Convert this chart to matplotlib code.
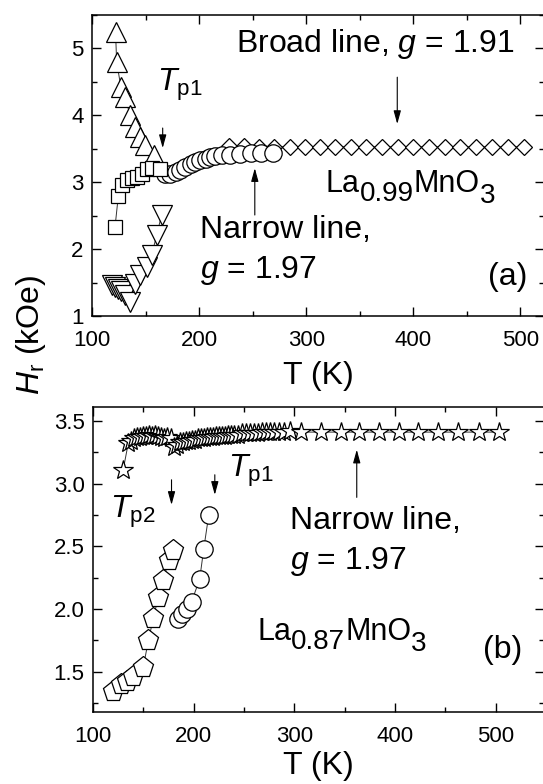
import matplotlib
matplotlib.use("Agg")
import matplotlib.pyplot as plt
from matplotlib.ticker import MultipleLocator

plt.rcParams['font.family'] = ['Liberation Sans', 'DejaVu Sans']
plt.rcParams['mathtext.fontset'] = 'custom'
plt.rcParams['mathtext.rm'] = 'Liberation Sans'
plt.rcParams['mathtext.it'] = 'Liberation Sans:italic'
plt.rcParams['mathtext.bf'] = 'Liberation Sans:bold'

# ---- (a) La0.99MnO3 ----
broad_T = [122, 123, 127, 131, 135.5, 140, 145, 149.5, 158]
broad_H = [5.24, 4.80, 4.42, 4.27, 4.00, 3.82, 3.67, 3.55, 3.40]

broad_hi_T = [228, 242, 256, 270, 285, 299, 313, 327, 342, 356, 371, 385.5,
              400, 414.5, 429.5, 444, 458.5, 473, 488, 503]
broad_hi_H = [3.54, 3.54, 3.53, 3.53, 3.53, 3.53, 3.53, 3.53, 3.53, 3.53, 3.53,
              3.53, 3.53, 3.53, 3.53, 3.53, 3.53, 3.53, 3.53, 3.53]

sq_T = [121.5, 124.6, 128.3, 132.4, 137, 141.8, 146.4, 151, 155.7, 163.6]
sq_H = [2.33, 2.80, 2.96, 3.03, 3.06, 3.08, 3.13, 3.20, 3.22, 3.20]

dn_T = [118.5, 121.5, 124.5, 127.5, 131, 135.5, 140, 145, 151, 155.7, 160.4, 165]
dn_H = [1.46, 1.43, 1.40, 1.37, 1.32, 1.21, 1.48, 1.61, 1.74, 1.91, 2.21, 2.51]

narrow_a_T = [168, 173, 178, 182, 187, 192, 196, 201, 206, 210, 215, 221, 229,
              238, 248, 258, 269]
narrow_a_H = [3.12, 3.12, 3.15, 3.18, 3.23, 3.27, 3.30, 3.33, 3.35, 3.37, 3.39,
              3.40, 3.41, 3.42, 3.43, 3.43, 3.43]

# ---- (b) La0.87MnO3 ----
star_T = [130, 135, 138, 141, 144, 147, 150, 153, 156, 159, 162, 165, 168, 171,
          174, 177, 180, 183, 186, 189, 192, 195, 198, 201, 204, 207, 210, 213,
          216, 219, 222, 225, 228, 231, 234, 237, 240, 244, 248, 252, 256, 260,
          264, 268, 272, 276, 280, 285, 290, 296, 306.5, 326.5, 346, 364, 384,
          404, 423, 443, 463, 483, 503]
star_H = [3.11, 3.32, 3.34, 3.36, 3.37, 3.37, 3.38, 3.38, 3.39, 3.38, 3.39, 3.38,
          3.37, 3.36, 3.37, 3.36, 3.29, 3.31, 3.33, 3.33, 3.34, 3.34, 3.35, 3.35,
          3.36, 3.36, 3.36, 3.37, 3.37, 3.37, 3.38, 3.38, 3.38, 3.38, 3.39, 3.39,
          3.39, 3.39, 3.40, 3.40, 3.40, 3.40, 3.40, 3.41, 3.41, 3.41, 3.41, 3.41,
          3.41, 3.42, 3.41, 3.41, 3.41, 3.41, 3.41, 3.41, 3.41, 3.41, 3.41, 3.41,
          3.41]

pent_T = [120, 128, 134, 140, 150, 155, 160, 165, 170, 175, 179.5]
pent_H = [1.35, 1.40, 1.43, 1.47, 1.54, 1.75, 1.93, 2.10, 2.23, 2.39, 2.47]

circ_b_T = [184, 188, 193, 198, 206, 210, 215]
circ_b_H = [1.92, 1.96, 2.00, 2.06, 2.24, 2.48, 2.75]

fig = plt.figure(figsize=(5.43, 7.84), dpi=100)
W, H = 543.0, 784.0
ax1 = fig.add_axes([92 / W, 1 - 316 / H, (544 - 92) / W, (316 - 15) / H])
ax2 = fig.add_axes([93 / W, 1 - 712 / H, (544 - 93) / W, (712 - 407) / H])

def series(ax, x, y, marker, ms):
    ax.plot(x, y, color='#333333', lw=0.7, marker=marker, ms=ms,
            mfc='white', mec='black', mew=0.9)

series(ax1, broad_hi_T, broad_hi_H, 'D', 8.5)
series(ax1, broad_T, broad_H, '^', 14)
series(ax1, dn_T, dn_H, 'v', 14)
series(ax1, narrow_a_T, narrow_a_H, 'o', 12.5)
series(ax1, sq_T, sq_H, 's', 9.5)

series(ax2, star_T, star_H, '*', 15)
series(ax2, pent_T, pent_H, 'p', 15.5)
series(ax2, circ_b_T, circ_b_H, 'o', 12.5)

ax1.set_xlim(100, 522)
ax1.set_ylim(1, 5.5)
ax1.yaxis.set_major_locator(MultipleLocator(1))
ax1.yaxis.set_minor_locator(MultipleLocator(0.5))

ax2.set_xlim(100, 548)
ax2.set_ylim(1.18, 3.61)
ax2.yaxis.set_major_locator(MultipleLocator(0.5))
ax2.yaxis.set_minor_locator(MultipleLocator(0.25))
ax2.yaxis.set_major_formatter(plt.FormatStrFormatter('%.1f'))

for ax in (ax1, ax2):
    ax.xaxis.set_major_locator(MultipleLocator(100))
    ax.xaxis.set_minor_locator(MultipleLocator(50))
    ax.tick_params(which='both', direction='in', top=True, right=True,
                   width=1.0, labelsize=16)
    ax.tick_params(which='major', length=6.5)
    ax.tick_params(which='minor', length=3.6)
    ax.tick_params(axis='x', pad=10)
    ax.tick_params(axis='y', pad=6)
    for s in ax.spines.values():
        s.set_linewidth(1.1)
ax1.set_xlabel('T (K)', fontsize=23, labelpad=7)
ax2.set_xlabel('T (K)', fontsize=23, labelpad=3)

arrow_kw = dict(arrowstyle='-|>,head_length=0.8,head_width=0.22',
                color='black', lw=0.8, shrinkA=0, shrinkB=0)
fs = 23


def formula(ax, x, y, parts, size=22, sub_size=20):
    # chemical formula with near full-size subscripts, built piece by piece
    prev = ax.text(x, y, parts[0], fontsize=size, va='baseline')
    for i, p in enumerate(parts[1:], start=1):
        is_sub = (i % 2 == 1)
        dy = -6 if is_sub else 6
        if is_sub and i == len(parts) - 1:
            dy = -7
        prev = ax.annotate(p, xy=(1, 0), xycoords=prev, xytext=(0, dy),
                           textcoords='offset points', va='bottom',
                           fontsize=sub_size if is_sub else size)
    return prev


# annotations (a)
ax1.text(234.6, 4.94, 'Broad line, $g$ = 1.91', fontsize=fs)
ax1.annotate('', xy=(385, 3.87), xytext=(385, 4.57), arrowprops=arrow_kw)
ax1.text(160.7, 4.37, r'$T_{\rm p1}$', fontsize=fs)
ax1.annotate('', xy=(166, 3.51), xytext=(166, 3.81), arrowprops=arrow_kw)
ax1.annotate('', xy=(252, 3.21), xytext=(252, 2.51), arrowprops=arrow_kw)
ax1.text(201, 2.16, 'Narrow line,', fontsize=fs)
ax1.text(201, 1.57, '$g$ = 1.97', fontsize=fs)
formula(ax1, 318, 2.855, ['La', '0.99', 'MnO', '3'])
ax1.text(470, 1.46, '(a)', fontsize=fs)

# annotations (b)
ax2.text(116.9, 2.73, r'$T_{\rm p2}$', fontsize=fs)
ax2.annotate('', xy=(178, 2.83), xytext=(178, 3.03), arrowprops=arrow_kw)
ax2.text(234, 3.05, r'$T_{\rm p1}$', fontsize=fs)
ax2.annotate('', xy=(221, 2.91), xytext=(221, 3.07), arrowprops=arrow_kw)
ax2.annotate('', xy=(362, 3.27), xytext=(362, 2.89), arrowprops=arrow_kw)
ax2.text(295.6, 2.64, 'Narrow line,', fontsize=fs)
ax2.text(295.6, 2.32, '$g$ = 1.97', fontsize=fs)
formula(ax2, 263, 1.755, ['La', '0.87', 'MnO', '3'])
ax2.text(487, 1.61, '(b)', fontsize=fs)

fig.text(31 / W, 1 - 335 / H, r'$H_{\rm r}$ (kOe)', fontsize=fs,
         rotation=90, ha='center', va='center')

fig.savefig('out.png', dpi=100)
